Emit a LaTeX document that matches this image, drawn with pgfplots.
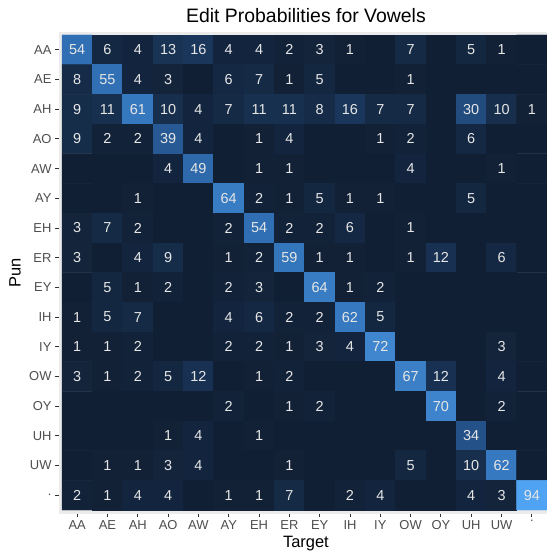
\documentclass[border=0pt]{standalone}
\usepackage{pgfplots}
\pgfplotsset{compat=1.18}
\usepackage{pgfplotstable}
\usepackage{fontspec}
\setmainfont{Liberation Sans}

\definecolor{panelgrey}{HTML}{EBEBEB}
\definecolor{tickgrey}{HTML}{333333}
\definecolor{labgrey}{HTML}{4D4D4D}
\definecolor{cellfont}{HTML}{E6E6E6}

% rows = Pun (AA at top, y=15), columns = Target (x=0..15)
\pgfplotstableread[row sep=\\]{
x y v\\
0 15 54\\1 15 6\\2 15 4\\3 15 13\\4 15 16\\5 15 4\\6 15 4\\7 15 2\\8 15 3\\9 15 1\\10 15 0\\11 15 7\\12 15 0\\13 15 5\\14 15 1\\15 15 0\\
0 14 8\\1 14 55\\2 14 4\\3 14 3\\4 14 0\\5 14 6\\6 14 7\\7 14 1\\8 14 5\\9 14 0\\10 14 0\\11 14 1\\12 14 0\\13 14 0\\14 14 0\\15 14 0\\
0 13 9\\1 13 11\\2 13 61\\3 13 10\\4 13 4\\5 13 7\\6 13 11\\7 13 11\\8 13 8\\9 13 16\\10 13 7\\11 13 7\\12 13 0\\13 13 30\\14 13 10\\15 13 1\\
0 12 9\\1 12 2\\2 12 2\\3 12 39\\4 12 4\\5 12 0\\6 12 1\\7 12 4\\8 12 0\\9 12 0\\10 12 1\\11 12 2\\12 12 0\\13 12 6\\14 12 0\\15 12 0\\
0 11 0\\1 11 0\\2 11 0\\3 11 4\\4 11 49\\5 11 0\\6 11 1\\7 11 1\\8 11 0\\9 11 0\\10 11 0\\11 11 4\\12 11 0\\13 11 0\\14 11 1\\15 11 0\\
0 10 0\\1 10 0\\2 10 1\\3 10 0\\4 10 0\\5 10 64\\6 10 2\\7 10 1\\8 10 5\\9 10 1\\10 10 1\\11 10 0\\12 10 0\\13 10 5\\14 10 0\\15 10 0\\
0 9 3\\1 9 7\\2 9 2\\3 9 0\\4 9 0\\5 9 2\\6 9 54\\7 9 2\\8 9 2\\9 9 6\\10 9 0\\11 9 1\\12 9 0\\13 9 0\\14 9 0\\15 9 0\\
0 8 3\\1 8 0\\2 8 4\\3 8 9\\4 8 0\\5 8 1\\6 8 2\\7 8 59\\8 8 1\\9 8 1\\10 8 0\\11 8 1\\12 8 12\\13 8 0\\14 8 6\\15 8 0\\
0 7 0\\1 7 5\\2 7 1\\3 7 2\\4 7 0\\5 7 2\\6 7 3\\7 7 0\\8 7 64\\9 7 1\\10 7 2\\11 7 0\\12 7 0\\13 7 0\\14 7 0\\15 7 0\\
0 6 1\\1 6 5\\2 6 7\\3 6 0\\4 6 0\\5 6 4\\6 6 6\\7 6 2\\8 6 2\\9 6 62\\10 6 5\\11 6 0\\12 6 0\\13 6 0\\14 6 0\\15 6 0\\
0 5 1\\1 5 1\\2 5 2\\3 5 0\\4 5 0\\5 5 2\\6 5 2\\7 5 1\\8 5 3\\9 5 4\\10 5 72\\11 5 0\\12 5 0\\13 5 0\\14 5 3\\15 5 0\\
0 4 3\\1 4 1\\2 4 2\\3 4 5\\4 4 12\\5 4 0\\6 4 1\\7 4 2\\8 4 0\\9 4 0\\10 4 0\\11 4 67\\12 4 12\\13 4 0\\14 4 4\\15 4 0\\
0 3 0\\1 3 0\\2 3 0\\3 3 0\\4 3 0\\5 3 2\\6 3 0\\7 3 1\\8 3 2\\9 3 0\\10 3 0\\11 3 0\\12 3 70\\13 3 0\\14 3 2\\15 3 0\\
0 2 0\\1 2 0\\2 2 0\\3 2 1\\4 2 4\\5 2 0\\6 2 1\\7 2 0\\8 2 0\\9 2 0\\10 2 0\\11 2 0\\12 2 0\\13 2 34\\14 2 0\\15 2 0\\
0 1 0\\1 1 1\\2 1 1\\3 1 3\\4 1 4\\5 1 0\\6 1 0\\7 1 1\\8 1 0\\9 1 0\\10 1 0\\11 1 5\\12 1 0\\13 1 10\\14 1 62\\15 1 0\\
0 0 2\\1 0 1\\2 0 4\\3 0 4\\4 0 0\\5 0 1\\6 0 1\\7 0 7\\8 0 0\\9 0 2\\10 0 4\\11 0 0\\12 0 0\\13 0 4\\14 0 3\\15 0 94\\
}\editprobs

\begin{document}
\begin{tikzpicture}
\begin{axis}[
    name=ax,
    width=488bp, height=481bp, scale only axis,
    xmin=-0.6, xmax=15.5, ymin=-0.6, ymax=15.6,
    enlargelimits=false,
    axis background/.style={fill=panelgrey},
    axis line style={draw=panelgrey},
    tick pos=left, tick align=outside,
    major tick length=4bp,
    tick style={draw=tickgrey, line width=0.9bp},
    xtick={0,...,15}, ytick={0,...,15},
    xticklabels={AA,AE,AH,AO,AW,AY,EH,ER,EY,IH,IY,OW,OY,UH,UW,.},
    yticklabels={.,UW,UH,OY,OW,IY,IH,EY,ER,EH,AY,AW,AO,AH,AE,AA},
    ticklabel style={font=\fontsize{13}{13}\selectfont, text=labgrey},
    xlabel={Target}, ylabel={Pun},
    label style={font=\fontsize{16.5}{16.5}\selectfont},
    xlabel style={at={(axis description cs:0.506,0)}, anchor=center, yshift=-31bp},
    ylabel style={at={(axis description cs:0,0.5)}, anchor=center, yshift=44bp},
    title={Edit Probabilities for Vowels},
    title style={font=\fontsize{19.5}{19.5}\selectfont, at={(axis description cs:0.506,1)}, anchor=center, yshift=10bp},
    colormap={gg}{rgb255=(17,31,52) rgb255=(43,102,168) rgb255=(80,163,242)},
    point meta min=0, point meta max=94,
    /pgf/number format/assume math mode=true,
]
\addplot[matrix plot*, mesh/cols=16, point meta=explicit] table[x=x, y=y, meta=v] {\editprobs};
\addplot[draw=none, point meta=explicit,
    nodes near coords={\pgfmathfloatifflags{\pgfplotspointmeta}{0}{}{\pgfmathprintnumber{\pgfplotspointmeta}}},
    nodes near coords align=center,
    every node near coord/.append style={font=\fontsize{14.5}{14.5}\selectfont, text=cellfont, inner sep=0pt}]
    table[x=x, y=y, meta=v] {\editprobs};
\end{axis}
\pgfresetboundingbox
\path[use as bounding box] ([xshift=-59bp, yshift=-39bp]ax.south west) rectangle ([yshift=32bp]ax.north east);
\end{tikzpicture}
\end{document}
